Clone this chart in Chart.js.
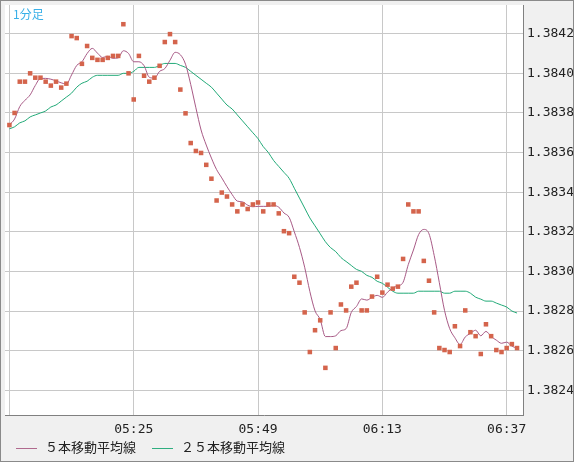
<!DOCTYPE html>
<html>
<head>
<meta charset="utf-8">
<script src="https://cdn.jsdelivr.net/npm/chart.js@4"></script>
<style>
body{margin:0;background:#fff;}
#wrap{position:relative;width:572px;height:460px;border:1px solid #8a8a8a;background:#f0f0f0;}
#title{position:absolute;left:12px;top:4px;font:12px "Noto Sans CJK JP",sans-serif;color:#3ab0e8;}
#legend{position:absolute;left:0;top:436px;font:13px "Noto Sans CJK JP",sans-serif;color:#222;}
.it{position:absolute;white-space:nowrap;}
.ln{display:inline-block;width:21px;height:1px;vertical-align:middle;margin-right:8px;}
</style>
</head>
<body>
<div id="wrap">
<canvas id="c" width="572" height="460"></canvas>
<div id="title">1分足</div>
<div id="legend">
  <span class="it" style="left:15px"><span class="ln" style="background:#b06a8e"></span>５本移動平均線</span>
  <span class="it" style="left:151px"><span class="ln" style="background:#2fae80"></span>２５本移動平均線</span>
</div>
</div>
<script>

// =====================================
// DADOS (1 ponto por minuto, 05:01 .. 06:39)
// =====================================

const startMinute = 5*60 + 1;
const tickIndex = [0, 24, 48, 72, 96];
const yTicks = [1.3824,1.3826,1.3828,1.3830,1.3832,1.3834,1.3836,1.3838,1.3840,1.3842];

const prices = [
1.383739,1.383800,1.383958,1.383958,1.384000,1.383978,1.383978,1.383958,1.383938,1.383958,
1.383928,1.383948,1.384188,1.384178,1.384048,1.384138,1.384078,1.384068,1.384068,1.384078,
1.384088,1.384088,1.384248,1.384000,1.383868,1.384088,1.383988,1.383958,1.383978,1.384038,
1.384158,1.384198,1.384158,1.383918,1.383798,1.383648,1.383608,1.383598,1.383538,1.383468,
1.383358,1.383398,1.383378,1.383338,1.383303,1.383338,1.383315,1.383338,1.383348,1.383303,
1.383338,1.383338,1.383293,1.383203,1.383193,1.382973,1.382943,1.382793,1.382593,1.382703,
1.382753,1.382513,1.382793,1.382613,1.382833,1.382803,1.382923,1.382943,1.382803,1.382803,
1.382873,1.382973,1.382893,1.382933,1.382913,1.382923,1.383063,1.383338,1.383303,1.383303,
1.383053,1.382953,1.382793,1.382613,1.382603,1.382593,1.382723,1.382623,1.382803,1.382693,
1.382673,1.382583,1.382733,1.382673,1.382603,1.382593,1.382613,1.382633,1.382613
];

const ma25 = [
1.38372,1.38373,1.38375,1.38376,1.38378,1.38379,1.38380,1.38381,1.38383,1.38384,
1.38386,1.38388,1.38390,1.38393,1.38395,1.38396,1.38398,1.38399,1.38399,1.38399,
1.38399,1.38399,1.38400,1.38400,1.38401,1.38403,1.38403,1.38403,1.38403,1.38404,
1.38405,1.38405,1.38405,1.38404,1.38403,1.38401,1.38399,1.38397,1.38395,1.38393,
1.38390,1.38387,1.38384,1.38382,1.38379,1.38376,1.38373,1.38370,1.38367,1.38363,
1.38360,1.38356,1.38353,1.38350,1.38347,1.38342,1.38337,1.38332,1.38327,1.38323,
1.38319,1.38315,1.38312,1.38310,1.38307,1.38305,1.38303,1.38301,1.38300,1.38298,
1.38297,1.38295,1.38294,1.38292,1.38290,1.38289,1.38289,1.38289,1.38289,1.38290,
1.38290,1.38290,1.38290,1.38290,1.38289,1.38289,1.38290,1.38290,1.38290,1.38289,
1.38287,1.38286,1.38285,1.38285,1.38284,1.38283,1.38282,1.38280,1.38279
];

// media movel de 5 periodos a partir dos precos
const ma5 = prices.map((p,i)=>{
    const s = prices.slice(Math.max(0,i-4), i+1);
    return s.reduce((a,b)=>a+b,0)/s.length;
});

function hhmm(i){
    const m = startMinute + i;
    return String(Math.floor(m/60)).padStart(2,"0") + ":" + String(m%60).padStart(2,"0");
}

const toXY = arr => arr.map((v,i)=>({x:i, y:v}));

// =====================================
// GRAFICO
// =====================================

new Chart(document.getElementById("c"),{
    type:"line",
    data:{
        datasets:[
            {
                data: toXY(prices),
                showLine:false,
                pointStyle:"rect",
                pointRadius:3.2,
                pointBackgroundColor:"#d4644c",
                pointBorderWidth:0,
                order:0
            },
            {
                data: toXY(ma5),
                borderColor:"#a85a86",
                borderWidth:1,
                pointRadius:0,
                cubicInterpolationMode:"monotone",
                order:1
            },
            {
                data: toXY(ma25),
                borderColor:"#22aa78",
                borderWidth:1,
                pointRadius:0,
                cubicInterpolationMode:"monotone",
                order:2
            }
        ]
    },
    options:{
        responsive:false,
        animation:false,
        layout:{padding:0},
        plugins:{legend:{display:false}, tooltip:{enabled:false}},
        scales:{
            x:{
                type:"linear",
                min:-0.85,
                max:99.15,
                afterBuildTicks: s => { s.ticks = tickIndex.map(v=>({value:v})); },
                afterFit: s => { s.height = 46; s.paddingLeft = 0; s.paddingRight = 0; },
                grid:{color:"#c8c8c8", drawTicks:false},
                border:{color:"#808080"},
                ticks:{
                    padding:7,
                    color:"#222",
                    font:{family:"DejaVu Sans Mono", size:13},
                    callback: v => v===0 ? "" : hhmm(v),
                    maxRotation:0
                }
            },
            y:{
                position:"right",
                min:1.382275,
                max:1.384345,
                afterBuildTicks: s => { s.ticks = yTicks.map(v=>({value:v})); },
                afterFit: s => { s.width = 50; s.paddingTop = 0; s.paddingBottom = 0; },
                grid:{color:"#c8c8c8", drawTicks:false},
                border:{color:"#808080"},
                ticks:{
                    padding:4,
                    color:"#222",
                    font:{family:"DejaVu Sans Mono", size:13},
                    callback: v => v.toFixed(4)
                }
            }
        }
    },
    plugins:[{
        id:"fundo",
        beforeDraw(chart){
            const a = chart.chartArea, c = chart.ctx;
            c.save();
            c.fillStyle = "#fff";
            c.fillRect(a.left, a.top, a.right-a.left, a.bottom-a.top);
            c.restore();
        }
    }]
});
</script>
</body>
</html>
